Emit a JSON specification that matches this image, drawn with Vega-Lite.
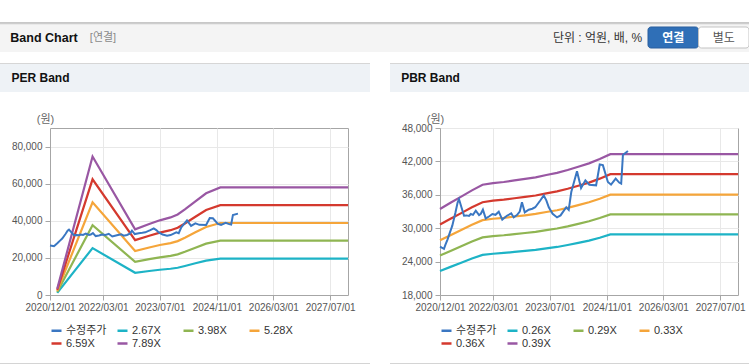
{
 "$schema": "https://vega.github.io/schema/vega-lite/v6.json",
 "padding": {"top": 22, "left": 0, "right": 0, "bottom": 0},
 "background": "#ffffff",
 "config": {
  "view": {"stroke": null},
  "font": "Liberation Sans, Noto Sans CJK KR",
  "axis": {"labelFont": "Liberation Sans", "labelFontSize": 10, "labelColor": "#555555", "tickColor": "#a6a6a6", "domainColor": "#a6a6a6", "gridColor": "#e8e8e8", "tickSize": 5, "labelPadding": 2, "titleFont": "Liberation Sans, Noto Sans CJK KR"},
  "legend": {"labelFont": "Liberation Sans, Noto Sans CJK KR"}
 },
 "datasets": {
  "price": [
   {"d":"2020-12-01","s":"수정주가","v":26670},{"d":"2020-12-16","s":"수정주가","v":26500},{"d":"2021-01-04","s":"수정주가","v":26300},{"d":"2021-01-16","s":"수정주가","v":27000},{"d":"2021-02-04","s":"수정주가","v":28000},{"d":"2021-02-25","s":"수정주가","v":29300},{"d":"2021-03-16","s":"수정주가","v":30420},{"d":"2021-04-13","s":"수정주가","v":32850},{"d":"2021-05-01","s":"수정주가","v":34600},{"d":"2021-05-13","s":"수정주가","v":35200},{"d":"2021-06-01","s":"수정주가","v":33900},{"d":"2021-06-25","s":"수정주가","v":32240},{"d":"2021-07-16","s":"수정주가","v":32300},{"d":"2021-08-07","s":"수정주가","v":32200},{"d":"2021-08-22","s":"수정주가","v":32550},{"d":"2021-09-10","s":"수정주가","v":32400},{"d":"2021-10-04","s":"수정주가","v":33150},{"d":"2021-11-01","s":"수정주가","v":32360},{"d":"2021-11-16","s":"수정주가","v":32600},{"d":"2021-12-04","s":"수정주가","v":33330},{"d":"2021-12-28","s":"수정주가","v":31760},{"d":"2022-01-25","s":"수정주가","v":32100},{"d":"2022-02-23","s":"수정주가","v":32545},{"d":"2022-03-22","s":"수정주가","v":32400},{"d":"2022-04-19","s":"수정주가","v":32970},{"d":"2022-05-19","s":"수정주가","v":31550},{"d":"2022-06-28","s":"수정주가","v":32240},{"d":"2022-08-04","s":"수정주가","v":32670},{"d":"2022-08-25","s":"수정주가","v":31940},{"d":"2022-09-22","s":"수정주가","v":32360},{"d":"2022-10-16","s":"수정주가","v":33000},{"d":"2022-11-04","s":"수정주가","v":34670},{"d":"2022-11-28","s":"수정주가","v":32850},{"d":"2023-01-01","s":"수정주가","v":33330},{"d":"2023-02-01","s":"수정주가","v":33500},{"d":"2023-02-26","s":"수정주가","v":33760},{"d":"2023-04-10","s":"수정주가","v":34970},{"d":"2023-05-10","s":"수정주가","v":35880},{"d":"2023-06-01","s":"수정주가","v":35000},{"d":"2023-06-22","s":"수정주가","v":33760},{"d":"2023-07-25","s":"수정주가","v":32600},{"d":"2023-09-01","s":"수정주가","v":31940},{"d":"2023-10-01","s":"수정주가","v":32300},{"d":"2023-10-19","s":"수정주가","v":32850},{"d":"2023-11-19","s":"수정주가","v":33760},{"d":"2023-12-10","s":"수정주가","v":33300},{"d":"2024-01-01","s":"수정주가","v":36490},{"d":"2024-02-19","s":"수정주가","v":40240},{"d":"2024-03-25","s":"수정주가","v":37220},{"d":"2024-05-01","s":"수정주가","v":38600},{"d":"2024-06-04","s":"수정주가","v":37820},{"d":"2024-08-01","s":"수정주가","v":37700},{"d":"2024-09-01","s":"수정주가","v":41450},{"d":"2024-09-28","s":"수정주가","v":41330},{"d":"2024-11-10","s":"수정주가","v":38300},{"d":"2024-12-07","s":"수정주가","v":37820},{"d":"2025-01-16","s":"수정주가","v":38900},{"d":"2025-02-15","s":"수정주가","v":38200},{"d":"2025-03-04","s":"수정주가","v":38000},{"d":"2025-03-19","s":"수정주가","v":43150},{"d":"2025-05-01","s":"수정주가","v":43870}
  ],
  "perBands": [
   {"d":"2021-02-01","s":"2.67X","v":1121},{"d":"2021-02-01","s":"3.98X","v":1672},{"d":"2021-02-01","s":"5.28X","v":2218},{"d":"2021-02-01","s":"6.59X","v":2768},{"d":"2021-02-01","s":"7.89X","v":3314},
   {"d":"2021-12-01","s":"2.67X","v":25258},{"d":"2021-12-01","s":"3.98X","v":37651},{"d":"2021-12-01","s":"5.28X","v":49949},{"d":"2021-12-01","s":"6.59X","v":62341},{"d":"2021-12-01","s":"7.89X","v":74639},
   {"d":"2022-12-01","s":"2.67X","v":11975},{"d":"2022-12-01","s":"3.98X","v":17850},{"d":"2022-12-01","s":"5.28X","v":23681},{"d":"2022-12-01","s":"6.59X","v":29556},{"d":"2022-12-01","s":"7.89X","v":35387},
   {"d":"2023-04-01","s":"2.67X","v":12950},{"d":"2023-04-01","s":"3.98X","v":19303},{"d":"2023-04-01","s":"5.28X","v":25608},{"d":"2023-04-01","s":"6.59X","v":31962},{"d":"2023-04-01","s":"7.89X","v":38267},
   {"d":"2023-07-01","s":"2.67X","v":13617},{"d":"2023-07-01","s":"3.98X","v":20298},{"d":"2023-07-01","s":"5.28X","v":26928},{"d":"2023-07-01","s":"6.59X","v":33609},{"d":"2023-07-01","s":"7.89X","v":40239},
   {"d":"2023-10-01","s":"2.67X","v":14151},{"d":"2023-10-01","s":"3.98X","v":21094},{"d":"2023-10-01","s":"5.28X","v":27984},{"d":"2023-10-01","s":"6.59X","v":34927},{"d":"2023-10-01","s":"7.89X","v":41817},
   {"d":"2023-12-01","s":"2.67X","v":14685},{"d":"2023-12-01","s":"3.98X","v":21890},{"d":"2023-12-01","s":"5.28X","v":29040},{"d":"2023-12-01","s":"6.59X","v":36245},{"d":"2023-12-01","s":"7.89X","v":43395},
   {"d":"2024-02-01","s":"2.67X","v":15620},{"d":"2024-02-01","s":"3.98X","v":23283},{"d":"2024-02-01","s":"5.28X","v":30888},{"d":"2024-02-01","s":"6.59X","v":38552},{"d":"2024-02-01","s":"7.89X","v":46157},
   {"d":"2024-05-01","s":"2.67X","v":17088},{"d":"2024-05-01","s":"3.98X","v":25472},{"d":"2024-05-01","s":"5.28X","v":33792},{"d":"2024-05-01","s":"6.59X","v":42176},{"d":"2024-05-01","s":"7.89X","v":50496},
   {"d":"2024-08-01","s":"2.67X","v":18557},{"d":"2024-08-01","s":"3.98X","v":27661},{"d":"2024-08-01","s":"5.28X","v":36696},{"d":"2024-08-01","s":"6.59X","v":45801},{"d":"2024-08-01","s":"7.89X","v":54836},
   {"d":"2024-12-01","s":"2.67X","v":19625},{"d":"2024-12-01","s":"3.98X","v":29253},{"d":"2024-12-01","s":"5.28X","v":38808},{"d":"2024-12-01","s":"6.59X","v":48437},{"d":"2024-12-01","s":"7.89X","v":57992},
   {"d":"2027-12-01","s":"2.67X","v":19625},{"d":"2027-12-01","s":"3.98X","v":29253},{"d":"2027-12-01","s":"5.28X","v":38808},{"d":"2027-12-01","s":"6.59X","v":48437},{"d":"2027-12-01","s":"7.89X","v":57992}
  ],
  "pbrBands": [
   {"d":"2020-12-01","s":"0.26X","v":22310},{"d":"2020-12-01","s":"0.29X","v":25090},{"d":"2020-12-01","s":"0.33X","v":27830},{"d":"2020-12-01","s":"0.36X","v":30670},{"d":"2020-12-01","s":"0.39X","v":33450},
   {"d":"2021-03-01","s":"0.26X","v":23050},{"d":"2021-03-01","s":"0.29X","v":25920},{"d":"2021-03-01","s":"0.33X","v":28750},{"d":"2021-03-01","s":"0.36X","v":31690},{"d":"2021-03-01","s":"0.39X","v":34560},
   {"d":"2021-06-01","s":"0.26X","v":23800},{"d":"2021-06-01","s":"0.29X","v":26760},{"d":"2021-06-01","s":"0.33X","v":29680},{"d":"2021-06-01","s":"0.36X","v":32710},{"d":"2021-06-01","s":"0.39X","v":35680},
   {"d":"2021-09-01","s":"0.26X","v":24550},{"d":"2021-09-01","s":"0.29X","v":27600},{"d":"2021-09-01","s":"0.33X","v":30620},{"d":"2021-09-01","s":"0.36X","v":33750},{"d":"2021-09-01","s":"0.39X","v":36800},
   {"d":"2021-12-01","s":"0.26X","v":25210},{"d":"2021-12-01","s":"0.29X","v":28350},{"d":"2021-12-01","s":"0.33X","v":31450},{"d":"2021-12-01","s":"0.36X","v":34660},{"d":"2021-12-01","s":"0.39X","v":37800},
   {"d":"2022-03-01","s":"0.26X","v":25410},{"d":"2022-03-01","s":"0.29X","v":28580},{"d":"2022-03-01","s":"0.33X","v":31700},{"d":"2022-03-01","s":"0.36X","v":34940},{"d":"2022-03-01","s":"0.39X","v":38100},
   {"d":"2022-06-01","s":"0.26X","v":25550},{"d":"2022-06-01","s":"0.29X","v":28730},{"d":"2022-06-01","s":"0.33X","v":31870},{"d":"2022-06-01","s":"0.36X","v":35120},{"d":"2022-06-01","s":"0.39X","v":38300},
   {"d":"2022-09-01","s":"0.26X","v":25730},{"d":"2022-09-01","s":"0.29X","v":28940},{"d":"2022-09-01","s":"0.33X","v":32100},{"d":"2022-09-01","s":"0.36X","v":35380},{"d":"2022-09-01","s":"0.39X","v":38580},
   {"d":"2022-12-01","s":"0.26X","v":25910},{"d":"2022-12-01","s":"0.29X","v":29140},{"d":"2022-12-01","s":"0.33X","v":32320},{"d":"2022-12-01","s":"0.36X","v":35630},{"d":"2022-12-01","s":"0.39X","v":38850},
   {"d":"2023-03-01","s":"0.26X","v":26100},{"d":"2023-03-01","s":"0.29X","v":29350},{"d":"2023-03-01","s":"0.33X","v":32560},{"d":"2023-03-01","s":"0.36X","v":35880},{"d":"2023-03-01","s":"0.39X","v":39130},
   {"d":"2023-06-01","s":"0.26X","v":26380},{"d":"2023-06-01","s":"0.29X","v":29660},{"d":"2023-06-01","s":"0.33X","v":32910},{"d":"2023-06-01","s":"0.36X","v":36270},{"d":"2023-06-01","s":"0.39X","v":39550},
   {"d":"2023-09-01","s":"0.26X","v":26630},{"d":"2023-09-01","s":"0.29X","v":29950},{"d":"2023-09-01","s":"0.33X","v":33220},{"d":"2023-09-01","s":"0.36X","v":36620},{"d":"2023-09-01","s":"0.39X","v":39930},
   {"d":"2023-12-01","s":"0.26X","v":26980},{"d":"2023-12-01","s":"0.29X","v":30340},{"d":"2023-12-01","s":"0.33X","v":33650},{"d":"2023-12-01","s":"0.36X","v":37090},{"d":"2023-12-01","s":"0.39X","v":40450},
   {"d":"2024-03-01","s":"0.26X","v":27370},{"d":"2024-03-01","s":"0.29X","v":30780},{"d":"2024-03-01","s":"0.33X","v":34150},{"d":"2024-03-01","s":"0.36X","v":37630},{"d":"2024-03-01","s":"0.39X","v":41040},
   {"d":"2024-06-01","s":"0.26X","v":27780},{"d":"2024-06-01","s":"0.29X","v":31240},{"d":"2024-06-01","s":"0.33X","v":34650},{"d":"2024-06-01","s":"0.36X","v":38190},{"d":"2024-06-01","s":"0.39X","v":41650},
   {"d":"2024-09-01","s":"0.26X","v":28290},{"d":"2024-09-01","s":"0.29X","v":31820},{"d":"2024-09-01","s":"0.33X","v":35290},{"d":"2024-09-01","s":"0.36X","v":38900},{"d":"2024-09-01","s":"0.39X","v":42420},
   {"d":"2024-12-01","s":"0.26X","v":28880},{"d":"2024-12-01","s":"0.29X","v":32480},{"d":"2024-12-01","s":"0.33X","v":36030},{"d":"2024-12-01","s":"0.36X","v":39710},{"d":"2024-12-01","s":"0.39X","v":43300},
   {"d":"2027-12-01","s":"0.26X","v":28880},{"d":"2027-12-01","s":"0.29X","v":32480},{"d":"2027-12-01","s":"0.33X","v":36030},{"d":"2027-12-01","s":"0.36X","v":39710},{"d":"2027-12-01","s":"0.39X","v":43300}
  ]
 },
 "resolve": {"scale": {"color": "independent", "fill": "independent", "stroke": "independent"}, "legend": {"color": "independent"}},
 "spacing": 11,
 "vconcat": [
  {
   "spacing": 0, "bounds": "flush",
   "vconcat": [
    {"width": 749, "height": 1, "view": {"fill": "#c8c8c8"}, "data": {"values": []}, "mark": "text", "encoding": {"text": {"field": "t", "type": "nominal"}}},
    {
     "spacing": 0, "bounds": "flush",
     "hconcat": [
      {"width": 88, "height": 29, "view": {"fill": "#f4f4f4"}, "data": {"values": [{"t": "Band Chart"}]}, "mark": {"type": "text", "fontSize": 12.5, "fontWeight": "bold", "color": "#111111"}, "encoding": {"text": {"field": "t", "type": "nominal"}}},
      {"width": 30, "height": 29, "view": {"fill": "#f4f4f4"}, "data": {"values": [{"t": "[연결]"}]}, "mark": {"type": "text", "fontSize": 11, "color": "#8a8a8a"}, "encoding": {"text": {"field": "t", "type": "nominal"}}},
      {"width": 429, "height": 29, "view": {"fill": "#f4f4f4"}, "data": {"values": []}, "mark": "text", "encoding": {"text": {"field": "t", "type": "nominal"}}},
      {"width": 101, "height": 29, "view": {"fill": "#f4f4f4"}, "data": {"values": [{"t": "단위 : 억원, 배, %"}]}, "mark": {"type": "text", "fontSize": 12, "color": "#333333"}, "encoding": {"text": {"field": "t", "type": "nominal"}}},
      {
       "width": 101, "height": 29, "view": {"fill": "#f4f4f4"},
       "data": {"values": [{"b": "연결"}, {"b": "별도"}]},
       "encoding": {"x": {"field": "b", "type": "nominal", "scale": {"domain": ["연결", "별도"], "paddingInner": 0, "paddingOuter": 0}, "axis": null}},
       "layer": [
        {"mark": {"type": "bar", "cornerRadius": 3, "strokeWidth": 1},
         "encoding": {
          "y": {"datum": "btn", "type": "nominal", "scale": {"paddingInner": 0, "paddingOuter": 0.19}, "axis": null},
          "fill": {"field": "b", "type": "nominal", "scale": {"domain": ["연결", "별도"], "range": ["#2f6fb7", "#ffffff"]}, "legend": null},
          "stroke": {"field": "b", "type": "nominal", "scale": {"domain": ["연결", "별도"], "range": ["#2a5f9e", "#c2c2c2"]}, "legend": null}
         }},
        {"transform": [{"filter": "datum.b === '연결'"}], "mark": {"type": "text", "fontSize": 12, "fontWeight": "bold", "color": "#ffffff"}, "encoding": {"text": {"field": "b", "type": "nominal"}}},
        {"transform": [{"filter": "datum.b === '별도'"}], "mark": {"type": "text", "fontSize": 12, "color": "#555555"}, "encoding": {"text": {"field": "b", "type": "nominal"}}}
       ]
      }
     ]
    },
    {"width": 749, "height": 1, "view": {"fill": "#cdcdcd"}, "data": {"values": []}, "mark": "text", "encoding": {"text": {"field": "t", "type": "nominal"}}},
    {"width": 749, "height": 1, "view": {"fill": "#e9e9e9"}, "data": {"values": []}, "mark": "text", "encoding": {"text": {"field": "t", "type": "nominal"}}}
   ]
  },
  {
   "spacing": 20,
   "resolve": {"scale": {"color": "independent"}, "legend": {"color": "independent"}},
   "hconcat": [
    {
     "spacing": 0,
     "resolve": {"scale": {"color": "independent"}, "legend": {"color": "independent"}},
     "vconcat": [
      {"width": 370, "height": 1, "view": {"fill": "#d6d6d6"}, "data": {"values": []}, "mark": "text", "encoding": {"text": {"field": "t", "type": "nominal"}}},
      {"spacing": 0, "bounds": "flush", "hconcat": [
        {"width": 81, "height": 28, "view": {"fill": "#eef2f6"}, "data": {"values": [{"t": "PER Band"}]}, "mark": {"type": "text", "fontSize": 12, "fontWeight": "bold", "color": "#111111"}, "encoding": {"text": {"field": "t", "type": "nominal"}}},
        {"width": 289, "height": 28, "view": {"fill": "#eef2f6"}, "data": {"values": []}, "mark": "text", "encoding": {"text": {"field": "t", "type": "nominal"}}}
      ]},
      {"width": 1, "height": 20, "data": {"values": []}, "mark": "text", "encoding": {"text": {"field": "t", "type": "nominal"}}},
      {
       "spacing": 0,
       "resolve": {"scale": {"color": "independent"}, "legend": {"color": "independent"}},
       "hconcat": [
        {"width": 1, "height": 1, "data": {"values": []}, "mark": "text", "encoding": {"text": {"field": "t", "type": "nominal"}}},
        {
         "width": 298, "height": 167,
         "view": {"stroke": "#a6a6a6"},
         "encoding": {
          "x": {"field": "d", "type": "temporal", "title": null,
           "scale": {"type": "utc", "domain": [{"year": 2020, "month": 12, "date": 1, "utc": true}, {"year": 2027, "month": 12, "date": 1, "utc": true}]},
           "axis": {"values": [{"year": 2020, "month": 12, "date": 1, "utc": true}, {"year": 2022, "month": 3, "date": 1, "utc": true}, {"year": 2023, "month": 7, "date": 1, "utc": true}, {"year": 2024, "month": 11, "date": 1, "utc": true}, {"year": 2026, "month": 3, "date": 1, "utc": true}, {"year": 2027, "month": 7, "date": 1, "utc": true}], "format": "%Y/%m/%d", "labelOverlap": false, "labelFlush": false, "grid": true}},
          "y": {"field": "v", "type": "quantitative",
           "scale": {"domain": [0, 90000], "nice": false, "zero": false},
           "axis": {"values": [0, 20000, 40000, 60000, 80000], "format": ",d", "title": "(원)", "titleAngle": 0, "titleX": -5, "titleY": -9, "titleAlign": "center", "titleBaseline": "middle", "titleFontWeight": "normal", "titleFontSize": 11, "titleColor": "#666666", "minExtent": 48, "grid": true, "labelPadding": 3}},
          "color": {"field": "s", "type": "nominal",
           "scale": {"domain": ["수정주가", "2.67X", "3.98X", "5.28X", "6.59X", "7.89X"], "range": ["#3a77c2", "#1db3c6", "#8fb552", "#f5a53a", "#d4392e", "#9957a3"]},
           "legend": {"title": null, "orient": "bottom", "direction": "horizontal", "columns": 4, "gridAlign": "all", "symbolType": "stroke", "symbolStrokeWidth": 2.5, "symbolSize": 100, "labelFontSize": 11, "labelColor": "#333333", "columnPadding": 5, "rowPadding": 1, "labelOffset": 3, "offset": 12}}
         },
         "layer": [
          {"data": {"name": "perBands"}, "mark": {"type": "line", "strokeWidth": 2.2}},
          {"data": {"name": "price"}, "mark": {"type": "line", "strokeWidth": 2}}
         ]
        }
       ]
      },
      {"width": 1, "height": 13, "data": {"values": []}, "mark": "text", "encoding": {"text": {"field": "t", "type": "nominal"}}},
      {"width": 370, "height": 1, "view": {"fill": "#d4d4d4"}, "data": {"values": []}, "mark": "text", "encoding": {"text": {"field": "t", "type": "nominal"}}}
     ]
    },
    {
     "spacing": 0,
     "resolve": {"scale": {"color": "independent"}, "legend": {"color": "independent"}},
     "vconcat": [
      {"width": 359, "height": 1, "view": {"fill": "#d6d6d6"}, "data": {"values": []}, "mark": "text", "encoding": {"text": {"field": "t", "type": "nominal"}}},
      {"spacing": 0, "bounds": "flush", "hconcat": [
        {"width": 81, "height": 28, "view": {"fill": "#eef2f6"}, "data": {"values": [{"t": "PBR Band"}]}, "mark": {"type": "text", "fontSize": 12, "fontWeight": "bold", "color": "#111111"}, "encoding": {"text": {"field": "t", "type": "nominal"}}},
        {"width": 278, "height": 28, "view": {"fill": "#eef2f6"}, "data": {"values": []}, "mark": "text", "encoding": {"text": {"field": "t", "type": "nominal"}}}
      ]},
      {"width": 1, "height": 20, "data": {"values": []}, "mark": "text", "encoding": {"text": {"field": "t", "type": "nominal"}}},
      {
       "spacing": 0,
       "resolve": {"scale": {"color": "independent"}, "legend": {"color": "independent"}},
       "hconcat": [
        {"width": 1, "height": 1, "data": {"values": []}, "mark": "text", "encoding": {"text": {"field": "t", "type": "nominal"}}},
        {
         "width": 298, "height": 167,
         "view": {"stroke": "#a6a6a6"},
         "encoding": {
          "x": {"field": "d", "type": "temporal", "title": null,
           "scale": {"type": "utc", "domain": [{"year": 2020, "month": 12, "date": 1, "utc": true}, {"year": 2027, "month": 12, "date": 1, "utc": true}]},
           "axis": {"values": [{"year": 2020, "month": 12, "date": 1, "utc": true}, {"year": 2022, "month": 3, "date": 1, "utc": true}, {"year": 2023, "month": 7, "date": 1, "utc": true}, {"year": 2024, "month": 11, "date": 1, "utc": true}, {"year": 2026, "month": 3, "date": 1, "utc": true}, {"year": 2027, "month": 7, "date": 1, "utc": true}], "format": "%Y/%m/%d", "labelOverlap": false, "labelFlush": false, "grid": true}},
          "y": {"field": "v", "type": "quantitative",
           "scale": {"domain": [18000, 48000], "nice": false, "zero": false},
           "axis": {"values": [18000, 24000, 30000, 36000, 42000, 48000], "format": ",d", "title": "(원)", "titleAngle": 0, "titleX": -5, "titleY": -9, "titleAlign": "center", "titleBaseline": "middle", "titleFontWeight": "normal", "titleFontSize": 11, "titleColor": "#666666", "minExtent": 48, "grid": true, "labelPadding": 3}},
          "color": {"field": "s", "type": "nominal",
           "scale": {"domain": ["수정주가", "0.26X", "0.29X", "0.33X", "0.36X", "0.39X"], "range": ["#3a77c2", "#1db3c6", "#8fb552", "#f5a53a", "#d4392e", "#9957a3"]},
           "legend": {"title": null, "orient": "bottom", "direction": "horizontal", "columns": 4, "gridAlign": "all", "symbolType": "stroke", "symbolStrokeWidth": 2.5, "symbolSize": 100, "labelFontSize": 11, "labelColor": "#333333", "columnPadding": 5, "rowPadding": 1, "labelOffset": 3, "offset": 12}}
         },
         "layer": [
          {"data": {"name": "pbrBands"}, "mark": {"type": "line", "strokeWidth": 2.2}},
          {"data": {"name": "price"}, "mark": {"type": "line", "strokeWidth": 2}}
         ]
        }
       ]
      },
      {"width": 1, "height": 13, "data": {"values": []}, "mark": "text", "encoding": {"text": {"field": "t", "type": "nominal"}}},
      {"width": 359, "height": 1, "view": {"fill": "#d4d4d4"}, "data": {"values": []}, "mark": "text", "encoding": {"text": {"field": "t", "type": "nominal"}}}
     ]
    }
   ]
  }
 ]
}
